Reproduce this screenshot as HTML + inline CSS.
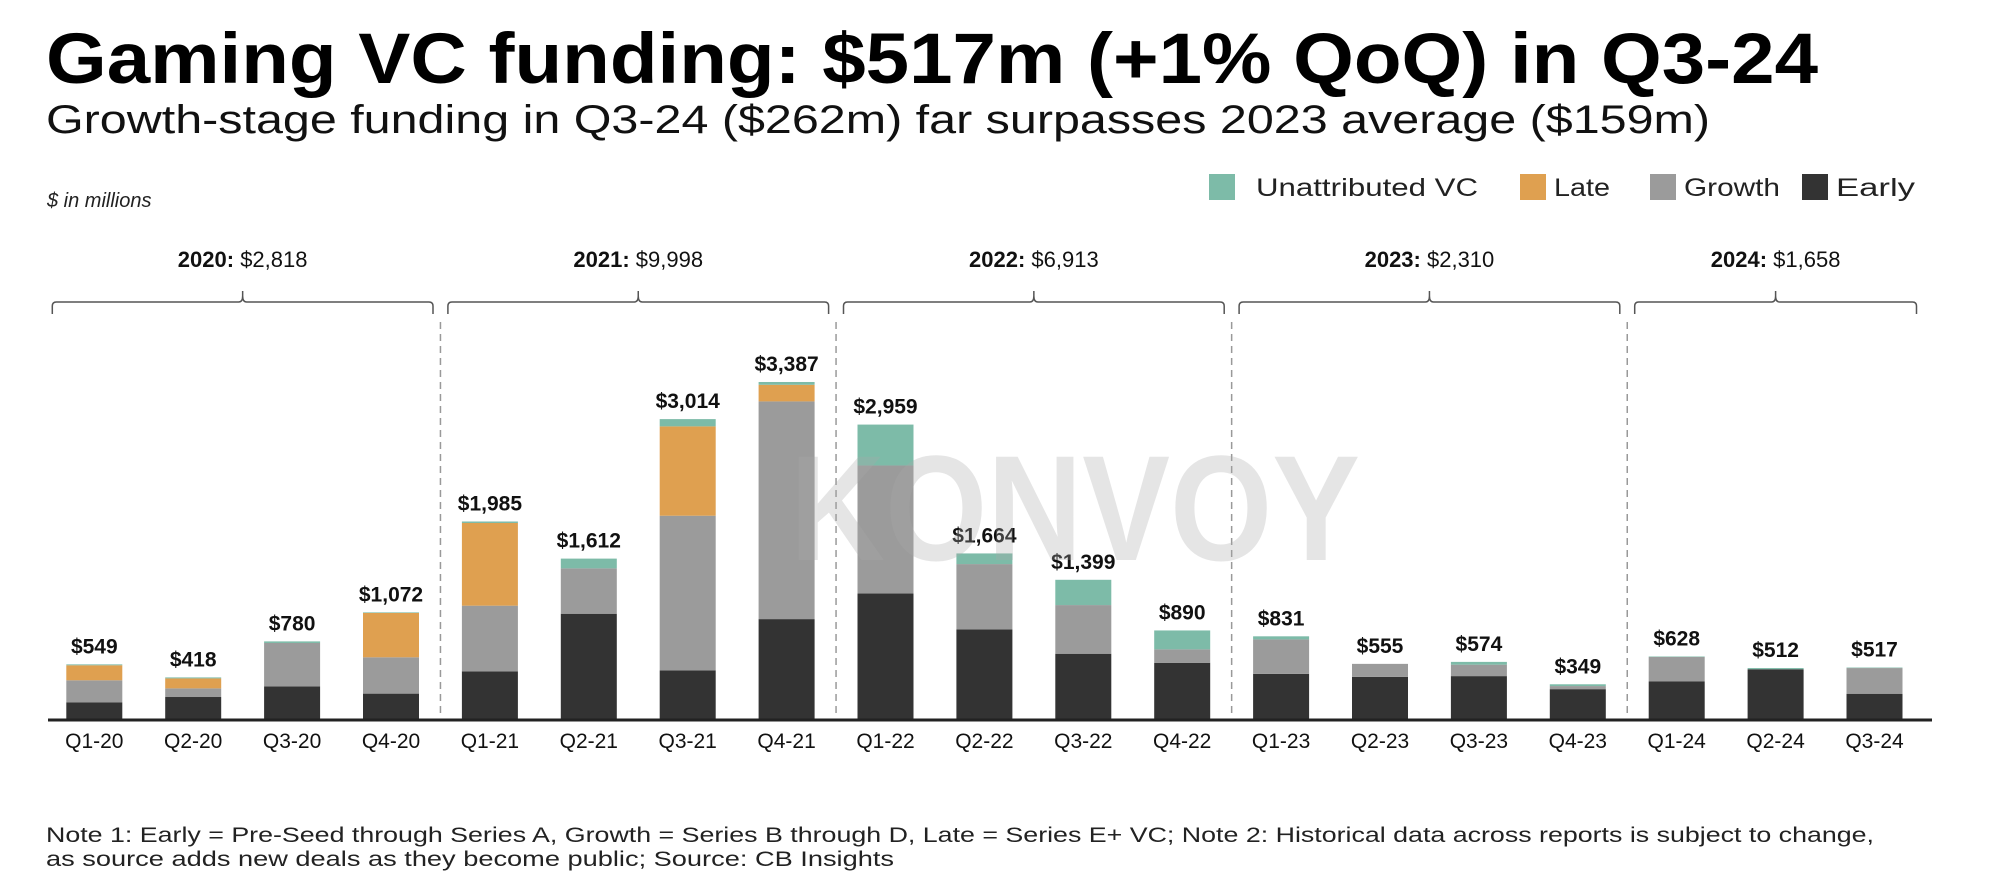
<!DOCTYPE html>
<html><head><meta charset="utf-8"><style>
html,body{margin:0;padding:0;background:#fff}
svg{display:block;font-family:"Liberation Sans",sans-serif}
</style></head><body>
<svg id="chart" width="1999" height="878" viewBox="0 0 1999 878">
<text x="46" y="83" font-size="71" font-weight="bold" fill="#000" textLength="1772" lengthAdjust="spacingAndGlyphs">Gaming VC funding: $517m (+1% QoQ) in Q3-24</text>
<text x="46" y="133" font-size="40" fill="#111" textLength="1664" lengthAdjust="spacingAndGlyphs">Growth-stage funding in Q3-24 ($262m) far surpasses 2023 average ($159m)</text>
<text x="47" y="207" font-size="20" font-style="italic" fill="#222">$ in millions</text>
<g>
<g><rect x="1209" y="174" width="26" height="26" fill="#7dbba8"/><text x="1256" y="196" font-size="25" fill="#222" textLength="222" lengthAdjust="spacingAndGlyphs">Unattributed VC</text></g>
<g><rect x="1520" y="174" width="26" height="26" fill="#dfa050"/><text x="1554" y="196" font-size="25" fill="#222" textLength="56" lengthAdjust="spacingAndGlyphs">Late</text></g>
<g><rect x="1650" y="174" width="26" height="26" fill="#9b9b9b"/><text x="1684" y="196" font-size="25" fill="#222" textLength="96" lengthAdjust="spacingAndGlyphs">Growth</text></g>
<g><rect x="1802" y="174" width="26" height="26" fill="#333"/><text x="1836" y="196" font-size="25" fill="#222" textLength="79" lengthAdjust="spacingAndGlyphs">Early</text></g>
</g>
<g id="plot"></g>
<text x="46" y="842" font-size="21" fill="#222" textLength="1828" lengthAdjust="spacingAndGlyphs">Note 1: Early = Pre-Seed through Series A, Growth = Series B through D, Late = Series E+ VC; Note 2: Historical data across reports is subject to change,</text>
<text x="46" y="866" font-size="21" fill="#222" textLength="848" lengthAdjust="spacingAndGlyphs">as source adds new deals as they become public; Source: CB Insights</text>
</svg>
<script>
const categories=["Q1-20","Q2-20","Q3-20","Q4-20","Q1-21","Q2-21","Q3-21","Q4-21","Q1-22","Q2-22","Q3-22","Q4-22","Q1-23","Q2-23","Q3-23","Q4-23","Q1-24","Q2-24","Q3-24"];
const early=[168,221,328,255,479,1058,489,1004,1261,901,656,565,454,423,431,300,377,500,254];
const growth=[221,87,436,365,660,456,1554,2188,1287,656,489,135,346,131,115,31,246,0,258];
const late=[151,100,0,446,831,0,898,167,0,0,0,0,0,0,0,0,0,0,0];
const unattributed=[9,10,16,6,15,98,73,28,411,107,254,190,31,0,28,18,5,12,5];
const totals=["$549","$418","$780","$1,072","$1,985","$1,612","$3,014","$3,387","$2,959","$1,664","$1,399","$890","$831","$555","$574","$349","$628","$512","$517"];
const years=["2020","2021","2022","2023","2024"];
const yearTotals=["$2,818","$9,998","$6,913","$2,310","$1,658"];

const NS="http://www.w3.org/2000/svg";
const g=document.getElementById('plot');
const base=719, pxPer=0.0995, x0=94.3, step=98.9, bw=56;
function xPos(i){return x0+i*step;}
function yPos(v){return base-v*pxPer;}
function mk(t,a){const e=document.createElementNS(NS,t);for(const k in a)e.setAttribute(k,a[k]);g.appendChild(e);return e;}

for(let k=0;k<years.length;k++){
  const first=k*4, last=Math.min(k*4+3,categories.length-1);
  const l=xPos(first)-bw/2-14, r=xPos(last)+bw/2+14, c=(l+r)/2;
  const br=mk('path',{d:`M${l},314 L${l},306 Q${l},302 ${l+4},302 L${c-4},302 Q${c},302 ${c},296 L${c},291 M${c},296 Q${c},302 ${c+4},302 L${r-4},302 Q${r},302 ${r},306 L${r},314`,fill:'none',stroke:'#555','stroke-width':1.5});
  
  
  const t=mk('text',{x:c,y:267,'font-size':22,'text-anchor':'middle',fill:'#111'});
  
  
  const b=document.createElementNS(NS,'tspan');b.setAttribute('font-weight','bold');b.textContent=years[k]+': ';t.appendChild(b);
  t.appendChild(document.createTextNode(yearTotals[k]));
  if(k>0){
    const sx=(xPos(first)+xPos(first-1))/2;
    const d=mk('line',{x1:sx,x2:sx,y1:322,y2:716,stroke:'#999','stroke-width':1.5,'stroke-dasharray':'7,5'});
    
    
  }
}
const series=[[early,'#333','early'],[growth,'#9b9b9b','growth'],[late,'#dfa050','late'],[unattributed,'#7dbba8','unattributed']];
for(let i=0;i<categories.length;i++){
  let acc=0;
  for(const [arr,col,nm] of series){
    const v=arr[i]; if(v<=0) continue;
    const r=mk('rect',{x:xPos(i)-bw/2,y:yPos(acc+v),width:bw,height:v*pxPer,fill:col});
    
    
    acc+=v;
  }
  const vl=mk('text',{x:xPos(i),y:yPos(acc)-11,'font-size':21,'font-weight':'bold','text-anchor':'middle',fill:'#111'});
  vl.textContent=totals[i];
  
  
  const xl=mk('text',{x:xPos(i),y:748,'font-size':21,'text-anchor':'middle',fill:'#111'});
  xl.textContent=categories[i];
  
  
}
const ax=mk('line',{x1:48,x2:1932,y1:base+1,y2:base+1,stroke:'#222','stroke-width':3});


const wm=mk('text',{x:790,y:560,'font-size':150,'font-weight':'bold',fill:'#aaa','fill-opacity':0.3,textLength:570,lengthAdjust:'spacingAndGlyphs'});
wm.textContent='KONVOY';


</script>
</body></html>
